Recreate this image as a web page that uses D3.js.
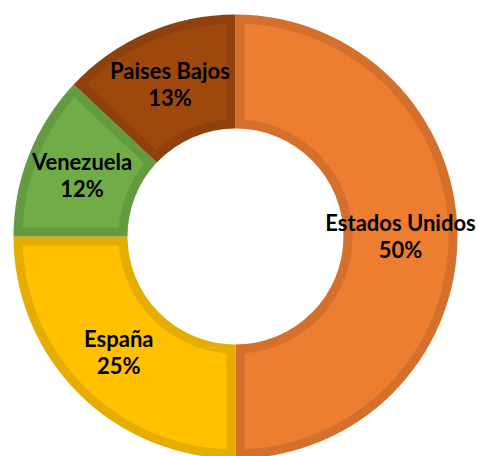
<!DOCTYPE html>
<html>
<head>
<meta charset="utf-8">
<script src="https://cdn.jsdelivr.net/npm/d3@7"></script>
<style>
    body { margin: 0; background: #fff; }
    .label { font-family: Lato, 'Open Sans', sans-serif; font-weight: bold; font-size: 22px; fill: #000; }
</style>
</head>
<body>
<div class="chart"></div>
<script>
var width = 479;
var height = 456;
var cx = 235.5, cy = 236.5;
var outerRadius = 222;
var innerRadius = 108;
var border = 9;

var data = [
    { name: 'Estados Unidos', value: 50, color: '#ED7D31' },
    { name: 'España', value: 25, color: '#FFC000' },
    { name: 'Venezuela', value: 12, color: '#70AD47' },
    { name: 'Paises Bajos', value: 13, color: '#9E480E' }
];

var svg = d3.select('.chart')
    .append('svg')
    .attr('width', width)
    .attr('height', height)
    .append('g')
    .attr('transform', `translate(${cx}, ${cy})`);

var pie = d3.pie()
    .value(d => d.value)
    .sort(null);

var arcs = pie(data);

// outer shape in the darker tone
var outerArc = d3.arc()
    .innerRadius(innerRadius)
    .outerRadius(outerRadius);

// lighter fill inset by the border width
var innerArc = d3.arc()
    .innerRadius(innerRadius + border)
    .outerRadius(outerRadius - border)
    .padRadius(100)
    .padAngle(2 * border / 100);

var labelArc = d3.arc()
    .innerRadius(165)
    .outerRadius(165);

svg.selectAll('.slice-border')
    .data(arcs)
    .enter()
    .append('path')
    .attr('class', 'slice-border')
    .attr('d', outerArc)
    .style('fill', d => d3.color(d.data.color).darker(0.3));

svg.selectAll('.slice')
    .data(arcs)
    .enter()
    .append('path')
    .attr('class', 'slice')
    .attr('d', innerArc)
    .style('fill', d => d.data.color);

var labels = svg.selectAll('.label')
    .data(arcs)
    .enter()
    .append('text')
    .attr('class', 'label')
    .attr('text-anchor', 'middle')
    .attr('transform', d => `translate(${labelArc.centroid(d)})`);

labels.append('tspan')
    .attr('x', 0)
    .attr('y', -6)
    .text(d => d.data.name);

labels.append('tspan')
    .attr('x', 0)
    .attr('y', 21)
    .text(d => d.data.value + '%');
</script>
</body>
</html>
